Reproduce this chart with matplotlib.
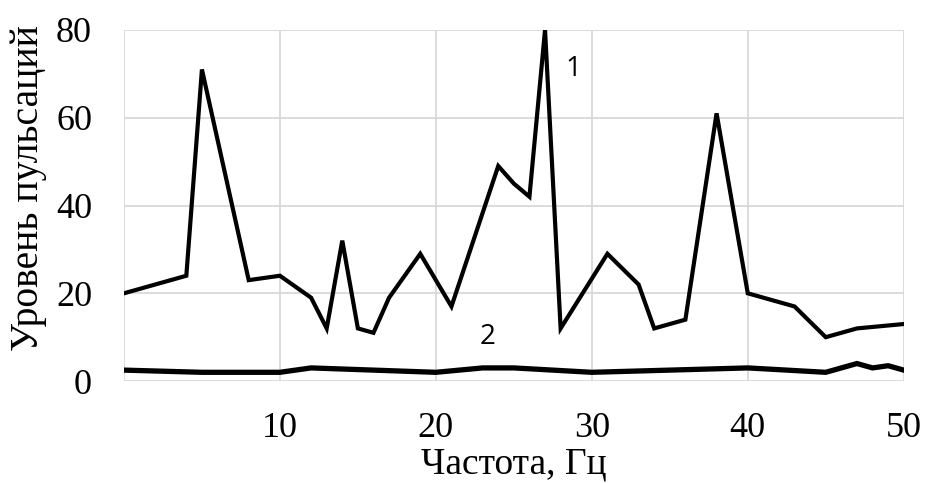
import matplotlib
matplotlib.use("Agg")
from matplotlib import pyplot as plt

# curve 1
freq1 = [0, 4, 5, 8, 10, 12, 13, 14, 15, 16, 17, 19, 21, 24, 25, 26, 27,
         28, 31, 33, 34, 36, 38, 40, 43, 45, 47, 50]
level1 = [20, 24, 71, 23, 24, 19, 12, 32, 12, 11, 19, 29, 17, 49, 45, 42, 80,
          12, 29, 22, 12, 14, 61, 20, 17, 10, 12, 13]

# curve 2
freq2 = [0, 5, 10, 12, 20, 23, 25, 30, 40, 45, 47, 48, 49, 50]
level2 = [2.5, 2, 2, 3, 2, 3, 3, 2, 3, 2, 4, 3, 3.5, 2.5]

xticks = [0, 10, 20, 30, 40, 50]
xticklabels = ["", "10", "20", "30", "40", "50"]
yticks = [0, 20, 40, 60, 80]

serif = "Liberation Serif"

fig = plt.figure(figsize=(9.25, 4.83), dpi=100)
ax = fig.add_axes([0.134, 0.211, 0.843, 0.727])

ax.plot(freq1, level1, color="black", lw=3.0, solid_joinstyle="miter", zorder=3)
ax.plot(freq2, level2, color="black", lw=3.8, solid_joinstyle="miter", zorder=3)

ax.text(28.8, 71, "1", fontsize=20, family="Open Sans", ha="center", va="center")
ax.text(23.3, 10, "2", fontsize=20, family="Open Sans", ha="center", va="center")

ax.set_xlim(0, 50)
ax.set_ylim(0, 80)
ax.set_xticks(xticks)
ax.set_xticklabels(xticklabels)
ax.set_yticks(yticks)
ax.grid(True, color="#d9d9d9", lw=1.3, zorder=0)
for s in ax.spines.values():
    s.set_visible(False)
ax.tick_params(length=0, labelsize=26, pad=22)
ax.tick_params(axis="y", pad=23)
for lab in ax.get_xticklabels() + ax.get_yticklabels():
    lab.set_family(serif)

ax.set_xlabel("Частота, Гц", fontsize=27, family=serif, labelpad=2)
# y label sits a bit above the axes centre in the original
fig.text(0.031, 0.61, "Уровень пульсаций", fontsize=28.5, family=serif,
         rotation=90, ha="center", va="center")

plt.savefig("out.png", dpi=100)
